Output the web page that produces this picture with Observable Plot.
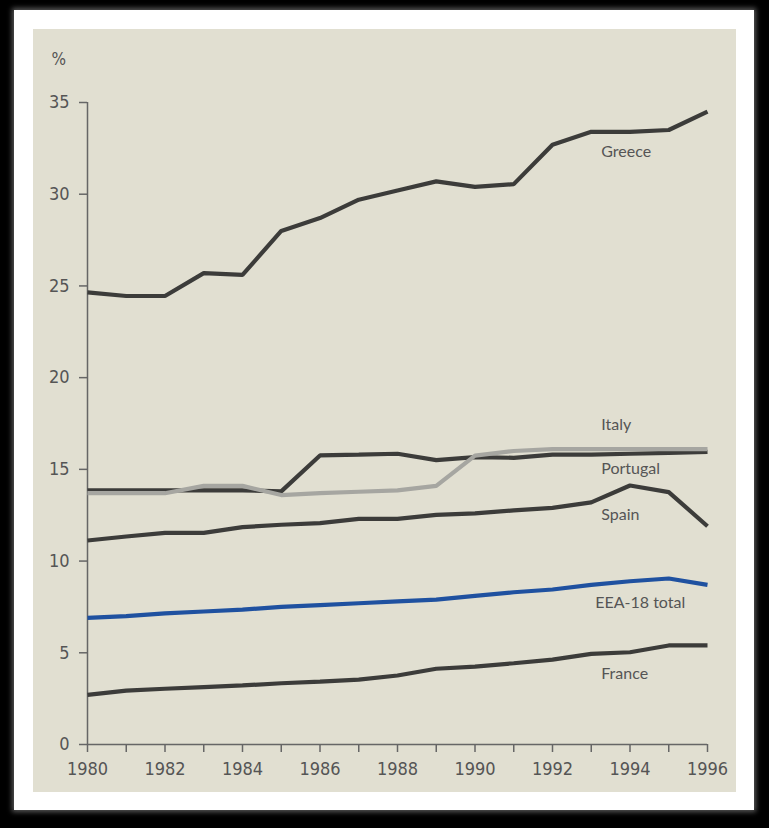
<!DOCTYPE html>
<html><head><meta charset="utf-8">
<script src="https://cdn.jsdelivr.net/npm/d3@7"></script>
<script src="https://cdn.jsdelivr.net/npm/@observablehq/plot@0.6"></script>
<style>
html,body{margin:0;padding:0;background:#000;width:769px;height:828px;overflow:hidden}
#frame{position:absolute;left:14px;top:10px;width:740px;height:800px;background:#fff;box-shadow:0 0 5px 2px rgba(255,255,255,0.35)}
#panel{position:absolute;left:33px;top:29px;width:703px;height:763px;background:#e1dfd1}
#chart{position:absolute;left:0;top:0}
</style></head><body>
<div id="frame"></div>
<div id="panel"><div id="chart"></div></div>
<script>
const years = [1980,1981,1982,1983,1984,1985,1986,1987,1988,1989,1990,1991,1992,1993,1994,1995,1996];
const yTicks = [0,5,10,15,20,25,30,35];
const greece   = [24.65,24.45,24.45,25.7,25.6,28.0,28.7,29.7,30.2,30.7,30.4,30.55,32.7,33.4,33.4,33.5,34.5];
const italy    = [13.7,13.7,13.7,14.1,14.1,13.6,13.7,13.78,13.85,14.1,15.75,16.0,16.1,16.1,16.1,16.1,16.1];
const portugal = [13.85,13.85,13.85,13.85,13.85,13.8,15.76,15.8,15.85,15.5,15.67,15.63,15.8,15.8,15.85,15.9,15.95];
const spain    = [11.12,11.34,11.54,11.54,11.85,11.98,12.07,12.3,12.3,12.52,12.6,12.76,12.9,13.2,14.12,13.76,11.9];
const eea      = [6.9,7.0,7.15,7.25,7.35,7.5,7.6,7.7,7.8,7.9,8.1,8.3,8.45,8.7,8.9,9.05,8.7];
const france   = [2.71,2.94,3.04,3.13,3.22,3.34,3.43,3.54,3.76,4.13,4.25,4.43,4.63,4.94,5.03,5.4,5.4];
const seriesNames = ["Greece","Italy","Portugal","Spain","EEA-18 total","France"];
const seriesValues = [greece, italy, portugal, spain, eea, france];
const seriesColors = ["#3c3c3a","#a6a6a1","#3c3c3a","#3c3c3a","#1f51a0","#3c3c3a"];
const labelYear = 1993;
const labelDx = [10,10,10,10,4,10];
const labelDy = [20,-24,14,13,18,20];

const rows = [];
seriesNames.forEach((name,i)=>years.forEach((yr,j)=>rows.push({series:name, year:yr, value:seriesValues[i][j]})));
const labels = seriesNames.map((name,i)=>({series:name, year:labelYear, value:seriesValues[i][years.indexOf(labelYear)], dx:labelDx[i], dy:labelDy[i]}));

const drawOrder = ["Greece","Portugal","Italy","Spain","EEA-18 total","France"];
const lineMarks = drawOrder.map(name => Plot.line(rows.filter(r=>r.series===name), {
  x:"year", y:"value", stroke: seriesColors[seriesNames.indexOf(name)], strokeWidth:4.2, strokeLinejoin:"miter", strokeLinecap:"butt"
}));
const labelMarks = labels.map(l => Plot.text([l], {x:"year", y:"value", text:"series", textAnchor:"start", dx:l.dx, dy:l.dy,
  fill:"#555", fontSize:16, fontFamily:"Lato, 'Open Sans', sans-serif"}));

const chart = Plot.plot({
  width:703, height:763,
  marginLeft:54, marginRight:29, marginTop:73, marginBottom:48,
  style:{background:"transparent", color:"#555", fontFamily:"'Liberation Sans Narrow','DejaVu Sans Condensed',sans-serif", fontSize:"18px"},
  x:{type:"linear", domain:[1980,1996]},
  y:{type:"linear", domain:[0,35]},
  marks:[
    Plot.axisY({ticks:yTicks, tickSize:8, tickPadding:10, label:null, stroke:"#666", strokeWidth:1.5, fontSize:18, fill:"#555"}),
    Plot.axisX({ticks:years, tickSize:8, tickPadding:10, label:null, stroke:"#666", strokeWidth:1.5, fontSize:18, fill:"#555",
      tickFormat:d => d % 2 === 0 ? String(d) : ""}),
    Plot.ruleX([years[0]], {y1:yTicks[0], y2:yTicks[yTicks.length-1], stroke:"#666", strokeWidth:1.5}),
    Plot.ruleY([yTicks[0]], {x1:years[0], x2:years[years.length-1], stroke:"#666", strokeWidth:1.5}),
    Plot.text(["%"], {frameAnchor:"top-left", dx:-36, dy:-50, fill:"#555", fontSize:17}),
    ...lineMarks,
    ...labelMarks
  ]
});
document.getElementById("chart").appendChild(chart);
</script>
</body></html>
